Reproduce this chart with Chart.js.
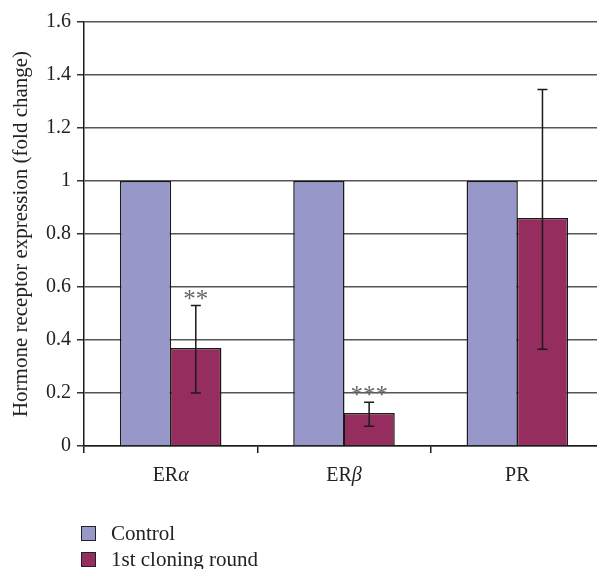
<!DOCTYPE html>
<html>
<head>
<meta charset="utf-8">
<script src="https://cdn.jsdelivr.net/npm/chart.js@4.4.0/dist/chart.umd.min.js"></script>
<style>
  html, body { margin: 0; padding: 0; overflow: hidden; background: #fff; width: 597px; height: 569px; }
  #wrap { position: relative; width: 604px; height: 569px; }
  #chart { position: absolute; left: 0; top: 0; }
  .leg { position: absolute; left: 81px; display: flex; align-items: center; white-space: nowrap;
         font: 21px 'Liberation Serif', 'Times New Roman', serif; color: #222; }
  .sw { width: 13px; height: 13px; border: 1.5px solid #222; margin-right: 15px; }
</style>
</head>
<body>
<div id="wrap">
  <canvas id="chart" width="604" height="569"></canvas>
</div>
<script>
// Receptor categories and series
const categories = ['ERα', 'ERβ', 'PR'];
const seriesNames = ['Control', '1st cloning round'];
const seriesColors = ['#9797CA', '#952E5E'];
const controlValues = [1, 1, 1];
const cloningValues = [0.37, 0.125, 0.86];
// Error bar limits for the cloning-round series
const cloningUpper = [0.53, 0.165, 1.345];
const cloningLower = [0.20, 0.075, 0.365];
// Significance marks above each cloning-round bar
const significance = ['**', '***', ''];
// Y axis range and step
const yMin = 0, yMax = 1.6, yStep = 0.2;

const SERIF = "'Liberation Serif', 'Times New Roman', serif";

// Vertical error bars plus significance asterisks
const errorBars = {
  id: 'errorBars',
  afterDatasetsDraw(chart) {
    const ctx = chart.ctx;
    const y = chart.scales.y;
    const meta = chart.getDatasetMeta(1);
    ctx.save();
    meta.data.forEach((bar, i) => {
      const x = bar.x;
      const yt = y.getPixelForValue(cloningUpper[i]);
      const yb = y.getPixelForValue(cloningLower[i]);
      ctx.strokeStyle = '#1a1a1a';
      ctx.lineWidth = 1.5;
      ctx.beginPath();
      ctx.moveTo(x, yt); ctx.lineTo(x, yb);
      ctx.moveTo(x - 5, yt); ctx.lineTo(x + 5, yt);
      ctx.moveTo(x - 5, yb); ctx.lineTo(x + 5, yb);
      ctx.stroke();
      if (significance[i]) {
        ctx.fillStyle = '#666';
        ctx.font = '25px ' + SERIF;
        ctx.textAlign = 'center';
        ctx.textBaseline = 'alphabetic';
        ctx.fillText(significance[i], x, yt + 1);
      }
    });
    ctx.restore();
  }
};

// Category labels with Greek letters set in italic
const categoryLabels = {
  id: 'categoryLabels',
  afterDraw(chart) {
    const ctx = chart.ctx;
    const xs = chart.scales.x;
    const ty = xs.top + 30;
    ctx.save();
    ctx.fillStyle = '#222';
    ctx.textBaseline = 'middle';
    ctx.textAlign = 'left';
    categories.forEach((label, i) => {
      const parts = label.split(/([\u0370-\u03FF])/).filter(s => s.length);
      const fonts = parts.map(p => (/[\u0370-\u03FF]/.test(p) ? 'italic ' : '') + '20px ' + SERIF);
      let total = 0;
      const widths = parts.map((p, k) => { ctx.font = fonts[k]; const w = ctx.measureText(p).width; total += w; return w; });
      let x = xs.getPixelForValue(i) - total / 2;
      parts.forEach((p, k) => { ctx.font = fonts[k]; ctx.fillText(p, x, ty); x += widths[k]; });
    });
    ctx.restore();
  }
};

new Chart(document.getElementById('chart'), {
  type: 'bar',
  data: {
    labels: categories,
    datasets: [
      { label: seriesNames[0], data: controlValues, backgroundColor: seriesColors[0],
        borderColor: '#1a1a1a', borderWidth: 1.5 },
      { label: seriesNames[1], data: cloningValues, backgroundColor: seriesColors[1],
        borderColor: '#1a1a1a', borderWidth: 1.5 }
    ]
  },
  options: {
    responsive: false,
    animation: false,
    devicePixelRatio: 1,
    layout: { padding: { left: 0, right: 0, top: 22, bottom: 83 } },
    datasets: { bar: { categoryPercentage: 0.58, barPercentage: 1.02 } },
    plugins: { legend: { display: false }, tooltip: { enabled: false } },
    scales: {
      x: {
        offset: true,
        afterFit(scale) { scale.height = 40; },
        ticks: { display: false },
        grid: { offset: true, drawOnChartArea: false, drawTicks: true, tickLength: 7,
                color: '#1a1a1a', lineWidth: 1.5 },
        border: { display: true, color: '#1a1a1a', width: 1.5 }
      },
      y: {
        min: yMin, max: yMax,
        afterFit(scale) { scale.width = 84; },
        ticks: { stepSize: yStep, padding: 6, color: '#222', font: { family: SERIF, size: 20 },
                 callback: v => String(Number(v.toFixed(2))) },
        grid: { color: '#555', lineWidth: 1.5, drawTicks: true, tickLength: 7, tickColor: '#333' },
        border: { display: true, color: '#1a1a1a', width: 1.5 },
        title: { display: true, text: 'Hormone receptor expression (fold change)', color: '#222',
                 font: { family: SERIF, size: 21 }, padding: { top: 9, bottom: 0 } }
      }
    }
  },
  plugins: [errorBars, categoryLabels]
});

// Legend entries
const wrap = document.getElementById('wrap');
seriesNames.forEach((name, i) => {
  const row = document.createElement('div');
  row.className = 'leg';
  row.style.top = (521 + i * 26) + 'px';
  const sw = document.createElement('span');
  sw.className = 'sw';
  sw.style.background = seriesColors[i];
  const txt = document.createElement('span');
  txt.textContent = name;
  row.appendChild(sw); row.appendChild(txt);
  wrap.appendChild(row);
});
</script>
</body>
</html>
